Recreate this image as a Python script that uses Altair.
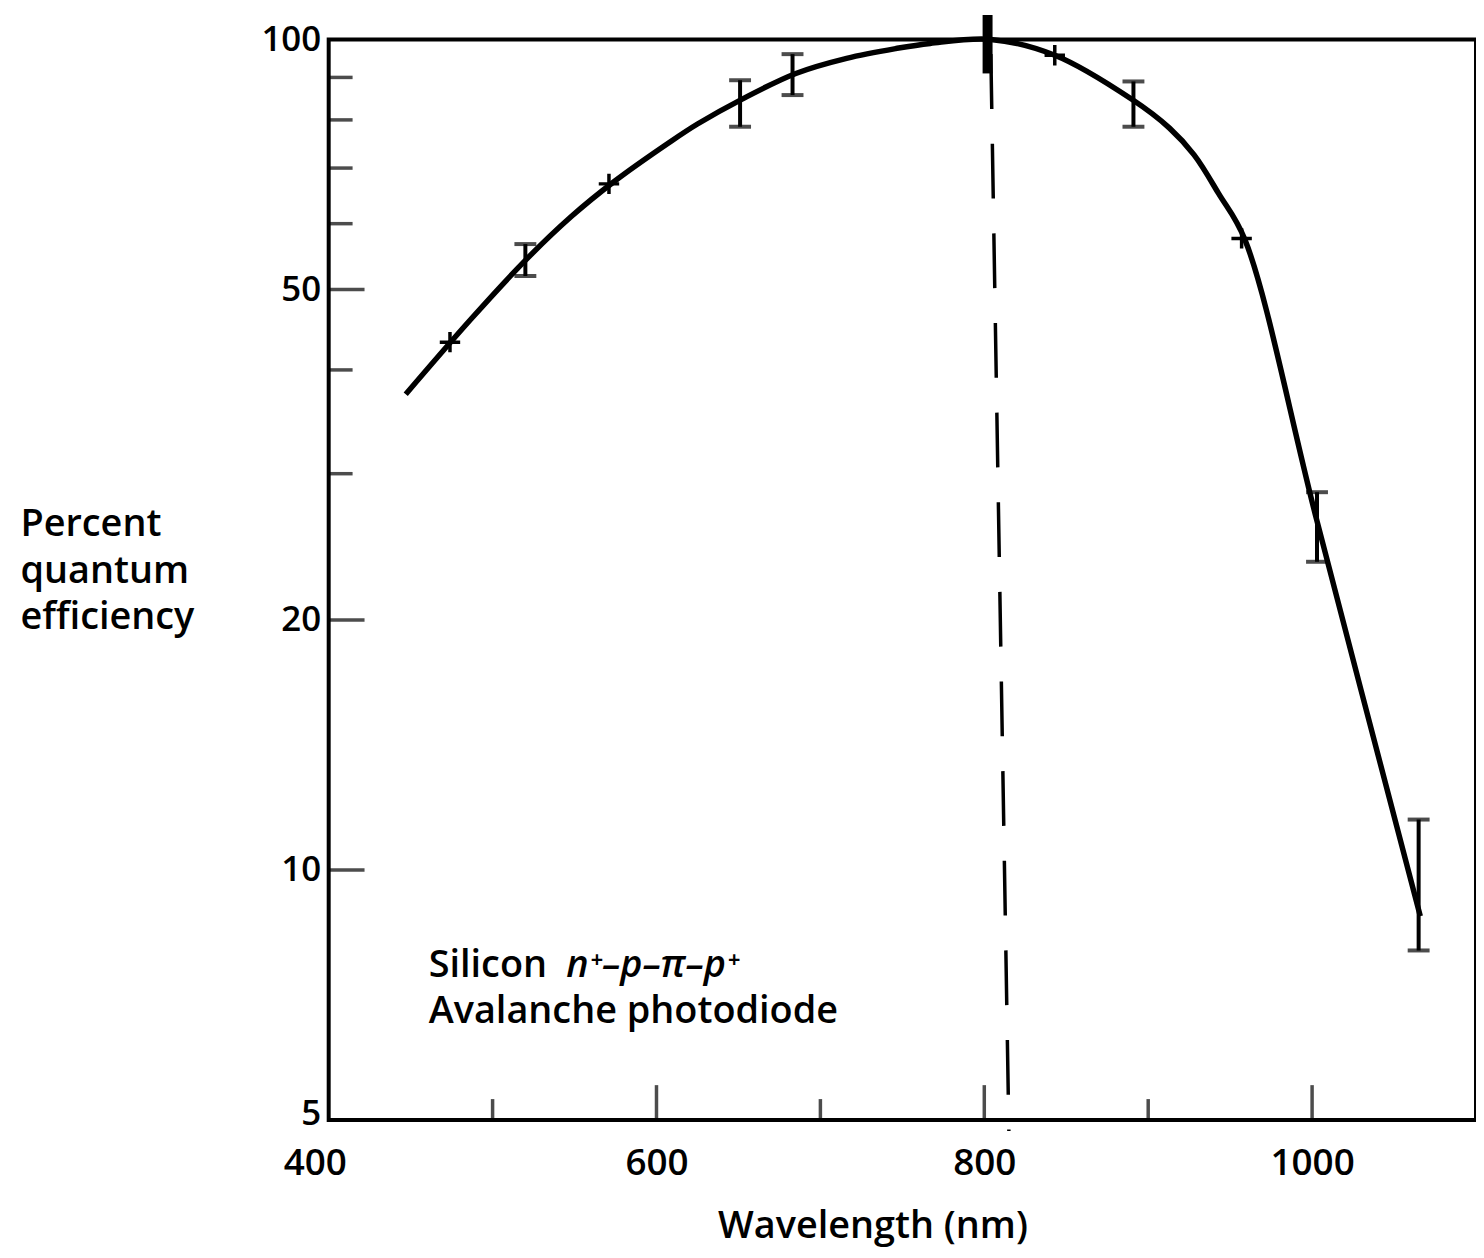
import altair as alt
import pandas as pd

# ---- data ----
curve_nm = [447, 487, 520, 548, 574, 608, 625, 652, 685, 716, 746, 767, 804,
            843, 890, 913, 928, 943, 959, 1003, 1066]
curve_pct = [37.4, 46.1, 54.2, 61.2, 67.4, 75.2, 79.1, 84.7, 91.0, 94.9, 97.5, 98.9, 100,
             95.7, 84.7, 78.2, 72.6, 65.2, 57.4, 26.3, 8.8]

err_nm = [520, 651, 683, 891, 1003, 1065]
err_lo = [51.9, 78.5, 85.7, 78.5, 23.5, 8.0]
err_hi = [56.7, 89.3, 96, 89, 28.5, 11.5]

peak_nm = [802]
peak_lo = [91]
peak_hi = [107]

cross_nm = [474, 571, 843, 957]
cross_pct = [43.2, 67, 95.7, 57.6]

dash_nm = [804, 815]
dash_pct = [96, 4.85]

ytick_major = [50, 20, 10]
ytick_minor = [90, 80, 70, 60, 40, 30]
xtick_major = [600, 800, 1000]
xtick_minor = [500, 700, 900]

y_labels = [5, 10, 20, 50, 100]
x_labels = [400, 600, 800, 1000]

FONT = "Open Sans"
W, H = 1152, 1085

xs = alt.Scale(domain=[400, 1100], nice=False, zero=False)
ys = alt.Scale(type="log", domain=[5, 100], nice=False)

curve_df = pd.DataFrame({"nm": curve_nm, "pct": curve_pct})
err_df = pd.DataFrame({"nm": err_nm, "lo": err_lo, "hi": err_hi})
peak_df = pd.DataFrame({"nm": peak_nm, "lo": peak_lo, "hi": peak_hi})
cross_df = pd.DataFrame({"nm": cross_nm, "pct": cross_pct})
dash_df = pd.DataFrame({"nm": dash_nm, "pct": dash_pct})

X = alt.X("nm:Q", scale=xs,
          axis=alt.Axis(values=x_labels, format="d", ticks=False, domain=False, grid=False,
                        labelFontSize=37, labelFont=FONT, labelFontWeight=600,
                        labelPadding=26, labelColor="black", labelFlush=False,
                        labelOffset={"condition": {"test": "datum.value == 400", "value": -14},
                                     "value": 0},
                        title="Wavelength (nm)", titleFont=FONT, titleFontSize=38,
                        titleFontWeight=600, titleColor="black",
                        titleX=546, titleY=118, titleBaseline="alphabetic",
                        titleAnchor="middle"))
Y = alt.Y("pct:Q", scale=ys,
          axis=alt.Axis(values=y_labels, format="d", ticks=False, domain=False, grid=False,
                        labelFontSize=35, labelFont=FONT, labelFontWeight=600,
                        labelPadding=8, labelColor="black", labelFlush=False,
                        labelOffset={"condition": {"test": "datum.value == 5", "value": -6},
                                     "value": 0},
                        title=["Percent", "quantum", "efficiency"],
                        titleFont=FONT, titleFontSize=38, titleFontWeight=600,
                        titleColor="black", titleAngle=0, titleAlign="left",
                        titleBaseline="alphabetic", titleX=-310, titleY=498,
                        titleLineHeight=47))

curve = alt.Chart(curve_df).mark_line(color="black", strokeWidth=5.5,
                                      interpolate="catmull-rom").encode(x=X, y=Y)

err_rule = alt.Chart(err_df).mark_rule(color="black", strokeWidth=4).encode(
    x=alt.X("nm:Q", scale=xs), y=alt.Y("lo:Q", scale=ys), y2="hi:Q")
err_lo_cap = alt.Chart(err_df).mark_tick(color="black", thickness=4, size=22,
                                         orient="horizontal").encode(
    x=alt.X("nm:Q", scale=xs), y=alt.Y("lo:Q", scale=ys))
err_hi_cap = alt.Chart(err_df).mark_tick(color="black", thickness=4, size=22,
                                         orient="horizontal").encode(
    x=alt.X("nm:Q", scale=xs), y=alt.Y("hi:Q", scale=ys))

peak = alt.Chart(peak_df).mark_rule(color="black", strokeWidth=10).encode(
    x=alt.X("nm:Q", scale=xs), y=alt.Y("lo:Q", scale=ys), y2="hi:Q")

cross = alt.Chart(cross_df).mark_point(
    shape="M-1,0L1,0M0,-1L0,1", filled=False, color="black",
    strokeWidth=3.5, size=420, opacity=1).encode(
    x=alt.X("nm:Q", scale=xs), y=alt.Y("pct:Q", scale=ys))

dash = alt.Chart(dash_df).mark_line(color="black", strokeWidth=3.5,
                                    strokeDash=[55, 35]).encode(
    x=alt.X("nm:Q", scale=xs), y=alt.Y("pct:Q", scale=ys))

# inward ticks
ytm = alt.Chart(pd.DataFrame({"v": ytick_major})).mark_tick(
    color="black", thickness=3.5, size=36, orient="horizontal").encode(
    x=alt.value(18), y=alt.Y("v:Q", scale=ys))
ytn = alt.Chart(pd.DataFrame({"v": ytick_minor})).mark_tick(
    color="black", thickness=3.5, size=24, orient="horizontal").encode(
    x=alt.value(12), y=alt.Y("v:Q", scale=ys))
xtm = alt.Chart(pd.DataFrame({"v": xtick_major})).mark_tick(
    color="black", thickness=3.5, size=35, orient="vertical").encode(
    x=alt.X("v:Q", scale=xs), y=alt.value(H - 17.5))
xtn = alt.Chart(pd.DataFrame({"v": xtick_minor})).mark_tick(
    color="black", thickness=3.5, size=21, orient="vertical").encode(
    x=alt.X("v:Q", scale=xs), y=alt.value(H - 10.5))

ann1 = alt.Chart(pd.DataFrame({"nm": [461], "pct": [7.44], "t": ["Silicon"]})).mark_text(
    align="left", baseline="alphabetic", font=FONT, fontSize=38, fontWeight=600,
    color="black").encode(x=alt.X("nm:Q", scale=xs), y=alt.Y("pct:Q", scale=ys), text="t:N")
ann2 = alt.Chart(pd.DataFrame({"nm": [545], "pct": [7.44], "t": ["n⁺–p–π–p⁺"]})).mark_text(
    align="left", baseline="alphabetic", font=FONT, fontSize=38, fontWeight=600,
    fontStyle="italic", color="black").encode(
    x=alt.X("nm:Q", scale=xs), y=alt.Y("pct:Q", scale=ys), text="t:N")
ann3 = alt.Chart(pd.DataFrame({"nm": [461], "pct": [6.54], "t": ["Avalanche photodiode"]})).mark_text(
    align="left", baseline="alphabetic", font=FONT, fontSize=38, fontWeight=600,
    color="black").encode(x=alt.X("nm:Q", scale=xs), y=alt.Y("pct:Q", scale=ys), text="t:N")

chart = alt.layer(
    curve, dash, err_rule, err_lo_cap, err_hi_cap, peak, cross,
    ytm, ytn, xtm, xtn, ann1, ann2, ann3
).properties(
    width=W, height=H,
    autosize=alt.AutoSizeParams(type="none"),
    padding={"left": 322, "top": 29, "right": 0, "bottom": 130},
    background="white",
).configure_view(stroke="black", strokeWidth=4)

chart.save("out.html", embed_options={"renderer": "svg", "actions": False})
